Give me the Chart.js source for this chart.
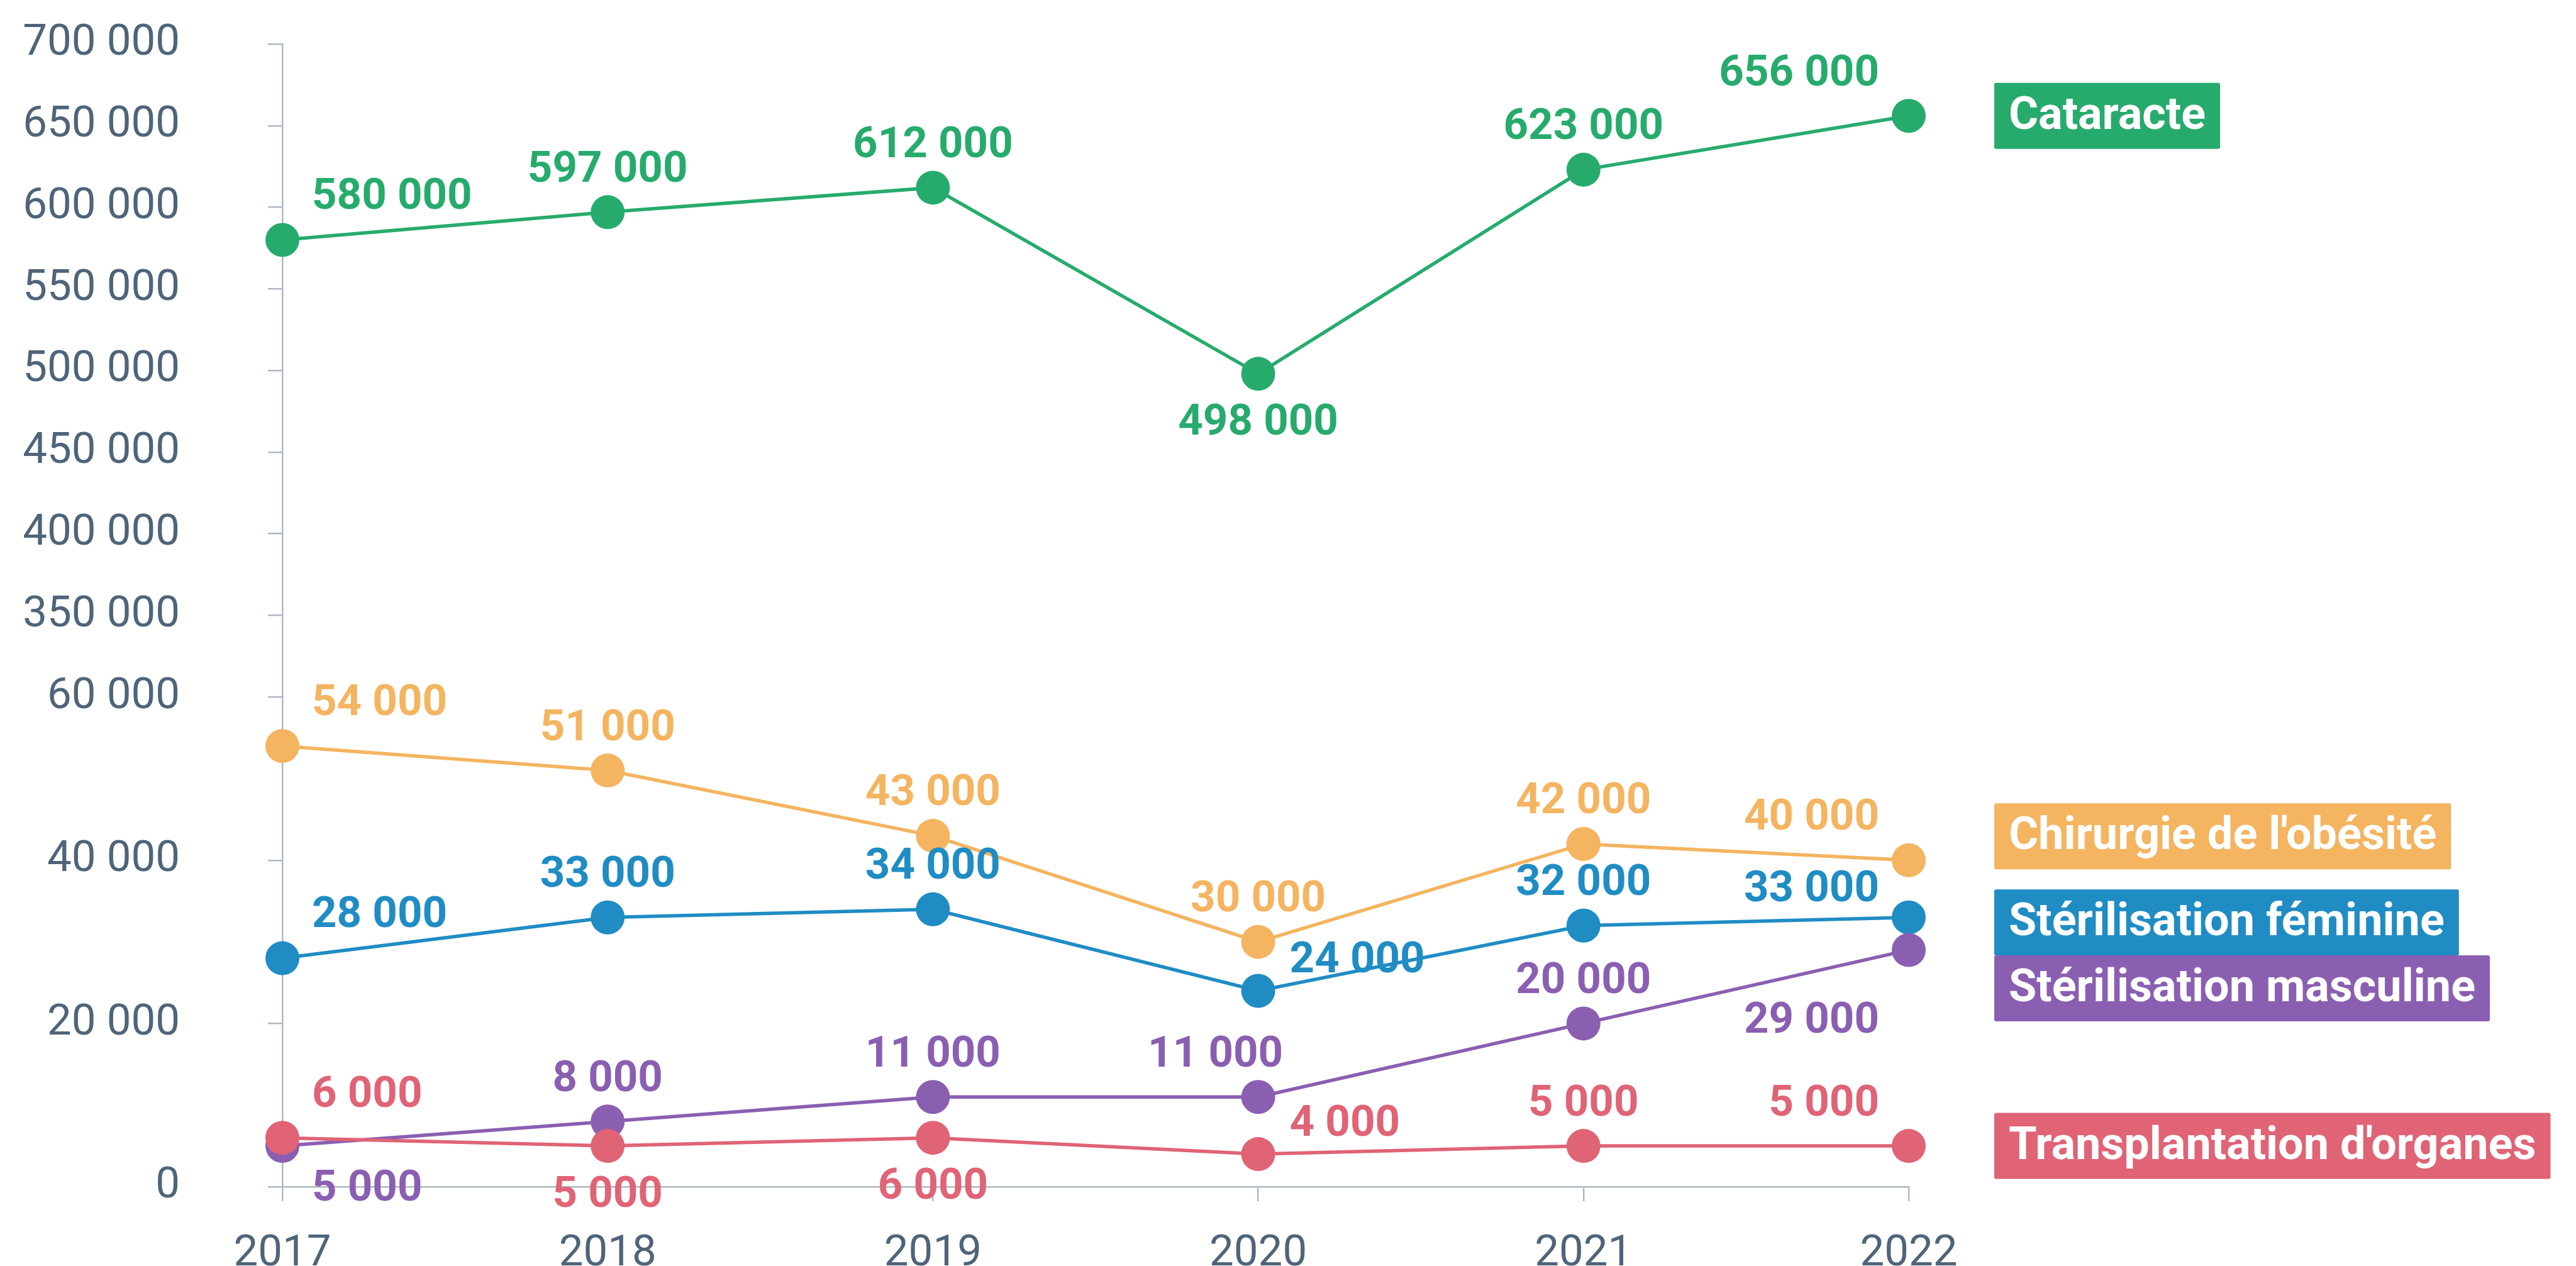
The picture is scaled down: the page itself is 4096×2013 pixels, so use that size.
<!DOCTYPE html>
<html>
<head>
<meta charset="utf-8">
<script src="https://cdn.jsdelivr.net/npm/chart.js@4.4.1/dist/chart.umd.min.js"></script>
<style>
  html, body { margin: 0; padding: 0; background: #ffffff; }
  #wrap { width: 4096px; height: 2013px; position: relative; }
</style>
</head>
<body>
<div id="wrap"><canvas id="c" width="4096" height="2013"></canvas></div>
<script>
// ---------- DATA ----------
const years = ['2017', '2018', '2019', '2020', '2021', '2022'];
const cataracte  = [580000, 597000, 612000, 498000, 623000, 656000];
const obesite    = [54000, 51000, 43000, 30000, 42000, 40000];
const sterFem    = [28000, 33000, 34000, 24000, 32000, 33000];
const sterMasc   = [5000, 8000, 11000, 11000, 20000, 29000];
const transplant = [6000, 5000, 6000, 4000, 5000, 5000];
const seriesNames = ['Cataracte', "Chirurgie de l'obésité", 'Stérilisation féminine',
                     'Stérilisation masculine', "Transplantation d'organes"];
// broken y axis: upper segment and lower segment tick labels
const upperTicks = [350000, 400000, 450000, 500000, 550000, 600000, 650000, 700000];
const lowerTicks = [0, 20000, 40000, 60000];

// ---------- STYLE ----------
const COLORS = ['#27AB6D', '#F4B460', '#208CC4', '#8A5FB1', '#E06376'];
const AXIS_TEXT = '#4F6479';
const AXIS_LINE = '#AEB8C3';
const FONT = 'Roboto, "Liberation Sans", sans-serif';
const FS = 69;
const LEG_FS = 72;
const CAP = FS * 0.711;
const LEG_CAP = LEG_FS * 0.711;

// label placement per point (style only)
const placements = [
  ['ra', 'a', 'a', 'b', 'a', 'la'],
  ['ra', 'a', 'a', 'a', 'a', 'la'],
  ['ra', 'a', 'a', 'r', 'a', 'la2'],
  ['rb', 'a', 'a', 'al', 'a', 'lb'],
  ['ra', 'b', 'b', 'r', 'a', 'la']
];
const OFFS = {
  a:   { align: 'center', dx: 0,   dy: -73 },
  b:   { align: 'center', dx: 0,   dy: 72 },
  ra:  { align: 'left',   dx: 47,  dy: -74 },
  rb:  { align: 'left',   dx: 47,  dy: 62 },
  r:   { align: 'left',   dx: 50,  dy: -54 },
  la:  { align: 'right',  dx: -47, dy: -73 },
  la2: { align: 'right',  dx: -47, dy: -50 },
  lb:  { align: 'right',  dx: -47, dy: 107 },
  al:  { align: 'center', dx: -68, dy: -73 }
};
const legendShift = [0, -38, 8, 61, 0];
const BOX_H = 105, BOX_PAD = 23, BOX_GAP = 136;

const fmt = v => String(v).replace(/\B(?=(\d{3})+(?!\d))/g, ' ');

const seriesData = [cataracte, obesite, sterFem, sterMasc, transplant];

const datasets = seriesData.map((d, i) => ({
  label: seriesNames[i],
  data: d,
  yAxisID: i === 0 ? 'yTop' : 'yBot',
  borderColor: COLORS[i],
  backgroundColor: COLORS[i],
  pointBackgroundColor: COLORS[i],
  borderWidth: 5.5,
  pointRadius: 27,
  pointBorderWidth: 0,
  pointHoverRadius: 27,
  tension: 0,
  clip: false,
  order: 4 - i
}));

const labelPlugin = {
  id: 'pointLabels',
  afterDatasetsDraw(chart) {
    const ctx = chart.ctx;
    ctx.save();
    ctx.font = `700 ${FS}px ${FONT}`;
    ctx.textBaseline = 'alphabetic';
    chart.data.datasets.forEach((ds, i) => {
      const meta = chart.getDatasetMeta(i);
      meta.data.forEach((pt, j) => {
        const p = OFFS[placements[i][j]];
        ctx.fillStyle = COLORS[i];
        ctx.textAlign = p.align;
        ctx.fillText(fmt(ds.data[j]), pt.x + p.dx, pt.y + p.dy + CAP / 2);
      });
    });
    // legend boxes at the end of each line
    ctx.font = `700 ${LEG_FS}px ${FONT}`;
    const left = chart.chartArea.right + BOX_GAP;
    chart.data.datasets.forEach((ds, i) => {
      const meta = chart.getDatasetMeta(i);
      const last = meta.data[meta.data.length - 1];
      const cy = last.y + legendShift[i];
      const w = ctx.measureText(ds.label).width + 2 * BOX_PAD;
      ctx.fillStyle = COLORS[i];
      ctx.beginPath();
      if (ctx.roundRect) ctx.roundRect(left, cy - BOX_H / 2, w, BOX_H, 3);
      else ctx.rect(left, cy - BOX_H / 2, w, BOX_H);
      ctx.fill();
      ctx.fillStyle = '#ffffff';
      ctx.textAlign = 'left';
      ctx.fillText(ds.label, left + BOX_PAD, cy - 5 + LEG_CAP / 2);
    });
    ctx.restore();
  }
};

const yCommon = {
  type: 'linear',
  position: 'left',
  stack: 'y',
  border: { display: true, color: AXIS_LINE, width: 2.5 },
  grid: { drawOnChartArea: false, drawTicks: true, tickLength: 23, color: AXIS_LINE, lineWidth: 2.5 },
  ticks: {
    color: AXIS_TEXT,
    font: { family: FONT, size: FS, weight: '400' },
    padding: 140,
    autoSkip: false,
    callback: v => fmt(v)
  },
  afterFit: s => { s.width = 449; s.paddingTop = 0; s.paddingBottom = 0; }
};

new Chart(document.getElementById('c'), {
  type: 'line',
  data: { labels: years, datasets },
  options: {
    responsive: false,
    animation: false,
    devicePixelRatio: 1,
    events: [],
    layout: { padding: { left: 0, top: 70, right: 1061, bottom: 0 } },
    plugins: { legend: { display: false }, tooltip: { enabled: false } },
    scales: {
      x: {
        type: 'category',
        offset: false,
        border: { display: true, color: AXIS_LINE, width: 2.5 },
        grid: { drawOnChartArea: false, drawTicks: true, tickLength: 23, color: AXIS_LINE, lineWidth: 2.5 },
        ticks: { color: AXIS_TEXT, font: { family: FONT, size: FS, weight: '400' }, padding: 43, maxRotation: 0 },
        afterFit: s => { s.height = 126; s.paddingLeft = 0; s.paddingRight = 0; }
      },
      yTop: Object.assign({}, yCommon, {
        min: 300000, max: 700000,
        stackWeight: 8,
        weight: 1,
        afterBuildTicks: s => { s.ticks = upperTicks.map(v => ({ value: v })); }
      }),
      yBot: Object.assign({}, yCommon, {
        min: 0, max: 60000,
        stackWeight: 6,
        weight: 0,
        afterBuildTicks: s => { s.ticks = lowerTicks.map(v => ({ value: v })); }
      })
    }
  },
  plugins: [labelPlugin]
});
</script>
</body>
</html>
